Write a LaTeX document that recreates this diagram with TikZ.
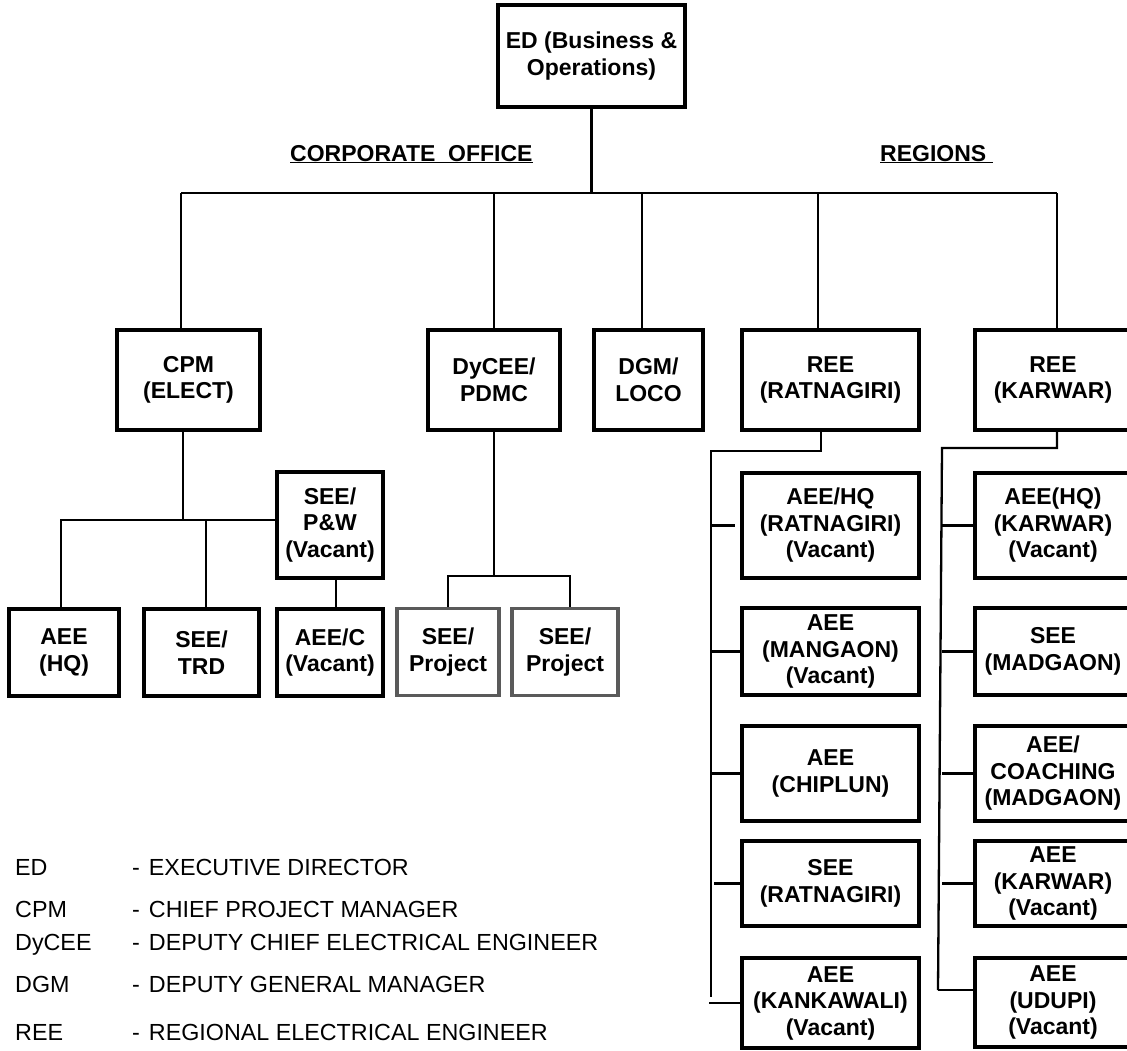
\documentclass[tikz,border=0pt]{standalone}
\usepackage{fontspec}
\setmainfont{Liberation Sans}
\usepackage{tikz}
\definecolor{projgray}{RGB}{90,90,90}

\begin{document}
\begin{tikzpicture}[x=1pt,y=-1pt,
  post/.style={draw=black,line width=3.2pt,align=center,inner sep=0pt,
    font=\fontsize{23}{26.5}\selectfont\bfseries,minimum height=87pt},
  proj/.style={post,draw=projgray},
  rcol/.style={post,minimum width=177pt},
  kcol/.style={post,minimum width=156pt},
  link/.style={line width=2.3pt},
  head/.style={anchor=base west,inner sep=0pt,font=\fontsize{23}{26}\selectfont\bfseries},
  legend/.style={anchor=base west,inner sep=0pt,font=\fontsize{23.3}{26}\selectfont}]
\useasboundingbox (0,0) rectangle (1127,1050);
\clip (0,0) rectangle (1127,1050);

% top
\node[post,minimum width=187pt,minimum height=102pt] (ED) at (591.5,56) {ED (Business \&\\Operations)};
\node[head] (corp) at (290,161) {\underline{CORPORATE\ \ OFFICE}};
\node[head] (reg) at (880,161) {\underline{REGIONS\ }};

% second row
\node[post,minimum width=143pt,minimum height=100pt] (CPM) at (188.5,380) {CPM\\(ELECT)};
\node[post,minimum width=132pt,minimum height=100pt] (DyCEE) at (494,380) {DyCEE/\\PDMC};
\node[post,minimum width=109pt,minimum height=100pt] (DGM) at (648.5,380) {DGM/\\LOCO};
\node[rcol,minimum height=100pt] (REER) at (830.5,380) {REE\\(RATNAGIRI)};
\node[kcol,minimum height=100pt] (REEK) at (1053,380) {REE\\(KARWAR)};

% corporate office
\node[post,minimum width=106pt,minimum height=106pt] (PW) at (330,525) {SEE/\\P\&W\\(Vacant)};
\node[post,minimum width=110pt] (AEEHQ) at (64,652.5) {AEE\\(HQ)};
\node[post,minimum width=115pt] (TRD) at (201.5,652.5) {SEE/\\TRD};
\node[post,minimum width=106pt] (AEEC) at (330,652.5) {AEE/C\\(Vacant)};
\node[proj,minimum width=102pt] (PRJa) at (448,652) {SEE/\\Project};
\node[proj,minimum width=106pt] (PRJb) at (565,652) {SEE/\\Project};

% ratnagiri
\node[rcol,minimum height=105pt] (R1) at (830.5,525.5) {AEE/HQ\\(RATNAGIRI)\\(Vacant)};
\node[rcol] (R2) at (830.5,651.5) {AEE\\(MANGAON)\\(Vacant)};
\node[rcol,minimum height=95pt] (R3) at (830.5,773.5) {AEE\\(CHIPLUN)};
\node[rcol,minimum height=85pt] (R4) at (830.5,883.5) {SEE\\(RATNAGIRI)};
\node[rcol,minimum height=90pt] (R5) at (830.5,1003) {AEE\\(KANKAWALI)\\(Vacant)};

% karwar
\node[kcol,minimum height=105pt] (K1) at (1053,525.5) {AEE(HQ)\\(KARWAR)\\(Vacant)};
\node[kcol] (K2) at (1053,651.5) {SEE\\(MADGAON)};
\node[kcol,minimum height=95pt] (K3) at (1053,773.5) {AEE/\\COACHING\\(MADGAON)};
\node[kcol,minimum height=85pt] (K4) at (1053,883.5) {AEE\\(KARWAR)\\(Vacant)};
\node[kcol,minimum height=89pt] (K5) at (1053,1002.5) {AEE\\(UDUPI)\\(Vacant)};

% main bar
\coordinate (barL) at (181,193);
\coordinate (barR) at (1057,193);
\coordinate (tDGM) at (642,193);
\coordinate (tREER) at (818,193);
\draw[link] (ED.south) -- (ED.south |- barL);
\draw[link] (barL) -- (barR);
\draw[link] (barL) -- (barL |- CPM.north);
\draw[link] (DyCEE.north) -- (DyCEE.north |- barL);
\draw[link] (tDGM) -- (tDGM |- DGM.north);
\draw[link] (tREER) -- (tREER |- REER.north);
\draw[link] (barR) -- (barR |- REEK.north);

% under CPM
\coordinate (cpmJ) at (183,520);
\coordinate (cpmL) at (61,520);
\coordinate (trdT) at (206,520);
\draw[link] (CPM.south -| cpmJ) -- (cpmJ);
\draw[link] (cpmL |- AEEHQ.north) -- (cpmL) -- (cpmL -| PW.west);
\draw[link] (trdT) -- (trdT |- TRD.north);
\draw[link] ([xshift=6pt]PW.south) -- ([xshift=6pt]AEEC.north);

% under DyCEE
\coordinate (dyJ) at (497,576);
\draw[link] (DyCEE.south) -- (DyCEE.south |- dyJ);
\draw[link] (PRJa.north) -- (PRJa.north |- dyJ) -- ([xshift=5pt]PRJb.north |- dyJ) -- ([xshift=5pt]PRJb.north);

% ratnagiri links
\coordinate (rJ) at (821,451);
\coordinate (rV) at (711,451);
\coordinate (rE) at (711,997);
\draw[link] (REER.south -| rJ) -- (rJ) -- (rV) -- (rE);
\draw[link] (rV |- R1.west) -- ([xshift=-5pt]R1.west);
\draw[link] (rV |- R2.west) -- (R2.west);
\draw[link] (rV |- R3.west) -- (R3.west);
\draw[link] ([xshift=3pt]rV |- R4.west) -- (R4.west);
\draw[link] ([xshift=-2pt]rV |- R5.west) -- (R5.west);

% karwar links
\coordinate (kJ) at (1057,448);
\coordinate (kV) at (942,448);
\coordinate (kE) at (938,990);
\draw[link] (REEK.south -| kJ) -- (kJ) -- (kV) -- (kE);
\draw[link] (kV |- K1.west) -- (K1.west);
\draw[link] (kV |- K2.west) -- (K2.west);
\draw[link] (kV |- K3.west) -- (K3.west);
\draw[link] (kV |- K4.west) -- (K4.west);
\draw[link] (kE) -- (kE -| K5.west);

% legend
\node[legend] (abED) at (15,875) {ED};
\node[legend] (dsED) at (132,875) {-\hspace{9pt}EXECUTIVE DIRECTOR};
\node[legend] (abCPM) at (15,917) {CPM};
\node[legend] (dsCPM) at (132,917) {-\hspace{9pt}CHIEF PROJECT MANAGER};
\node[legend] (abDy) at (15,950) {DyCEE};
\node[legend] (dsDy) at (132,950) {-\hspace{9pt}DEPUTY CHIEF ELECTRICAL ENGINEER};
\node[legend] (abDGM) at (15,992) {DGM};
\node[legend] (dsDGM) at (132,992) {-\hspace{9pt}DEPUTY GENERAL MANAGER};
\node[legend] (abREE) at (15,1040) {REE};
\node[legend] (dsREE) at (132,1040) {-\hspace{9pt}REGIONAL ELECTRICAL ENGINEER};
\end{tikzpicture}
\end{document}
